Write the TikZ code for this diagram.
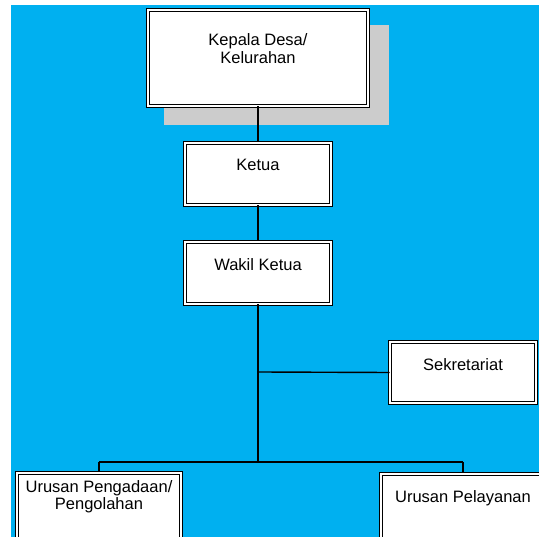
\documentclass[tikz,border=0pt]{standalone}
\usepackage{fontspec}
\setmainfont{Liberation Sans}
\definecolor{bgblue}{RGB}{0,176,240}
\definecolor{shadowgray}{RGB}{204,204,204}
\begin{document}
\begin{tikzpicture}[x=1pt,y=-1pt,
  orgbox/.style={draw=black,double=white,double distance=2pt,line width=1pt,fill=white,rectangle,inner sep=0pt},
  lbl/.style={font=\fontsize{16.5}{17.5}\selectfont,align=center,inner sep=0pt,anchor=north},
  conn/.style={draw=black,line width=1.4pt}]
\useasboundingbox (0,0) rectangle (539,537);
\clip (0,0) rectangle (539,537);
\fill[white] (0,0) rectangle (539,537);
\fill[bgblue] (11,5) rectangle (539,537);
% shadow of top box
\fill[shadowgray] (164,25) rectangle (389,125);
% boxes
\node[orgbox,minimum width=220pt,minimum height=96pt] (kepala) at (258,58) {};
\node[orgbox,minimum width=146pt,minimum height=62pt] (ketua) at (258,174) {};
\node[orgbox,minimum width=146pt,minimum height=62pt] (wakil) at (258,273) {};
\node[orgbox,minimum width=146pt,minimum height=61pt] (sek) at (463,372.5) {};
\node[orgbox,minimum width=164pt,minimum height=80pt] (peng) at (99,513) {};
\node[orgbox,minimum width=164pt,minimum height=80pt] (pel) at (463,514) {};
% labels
\node[lbl] (tkepala) at (258,33.5) {Kepala Desa/\\Kelurahan};
\node[lbl] (tketua) at (258,159) {Ketua};
\node[lbl] (twakil) at (258,258) {Wakil Ketua};
\node[lbl] (tsek) at (463,358) {Sekretariat};
\node[lbl] (tpeng) at (99,480) {Urusan Pengadaan/\\Pengolahan};
\node[lbl] (tpel) at (463,490) {Urusan Pelayanan};
% connectors
\coordinate (jsek) at (258,372);
\coordinate (jbot) at (258,462);
\coordinate (jl) at (99,462);
\coordinate (jr) at (463,462);
\draw[conn] (kepala.south) -- (ketua.north);
\draw[conn] (ketua.south) -- (wakil.north);
\draw[conn] (wakil.south) -- (jbot);
\draw[conn] (jsek) -- (sek.west);
\draw[conn] (jl) -- (jr);
\draw[conn] (jl) -- (peng.north);
\draw[conn] (jr) -- (pel.north);
\end{tikzpicture}
\end{document}
